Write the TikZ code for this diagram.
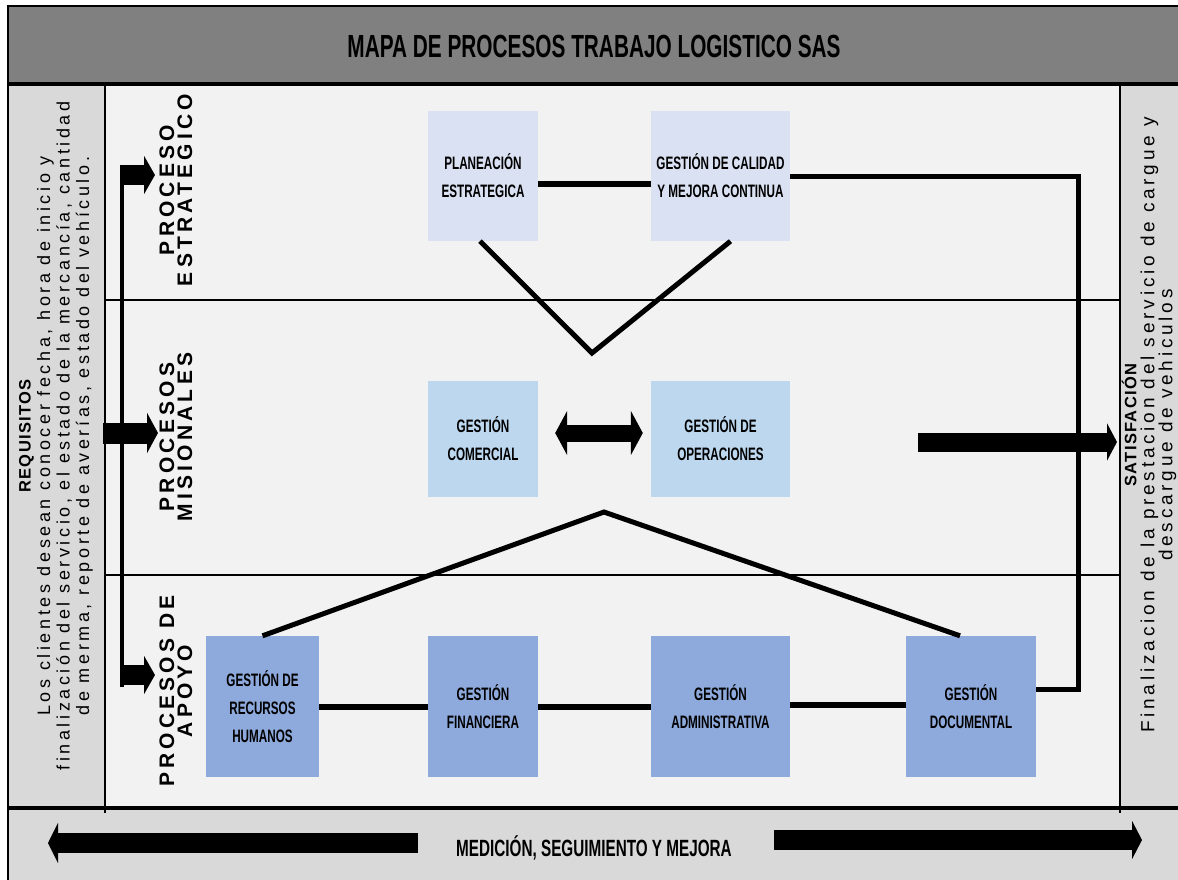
\documentclass[tikz,border=0pt]{standalone}
\usepackage{fontspec}
\setmainfont{Liberation Sans}
\newfontfamily\narrowfont[FakeStretch=0.65]{Liberation Sans}
\newfontfamily\spacedfont[LetterSpace=20]{Liberation Sans}
\newfontfamily\headfont[LetterSpace=8]{Liberation Sans}
\usetikzlibrary{arrows.meta, positioning, calc}
\definecolor{mtitle}{RGB}{128,128,128}
\definecolor{mside}{RGB}{217,217,217}
\definecolor{mback}{RGB}{242,242,242}
\definecolor{mstrat}{RGB}{218,225,242}
\definecolor{mmision}{RGB}{189,215,238}
\definecolor{mapoyo}{RGB}{142,169,219}

\begin{document}
\begin{tikzpicture}[x=1pt, y=-1pt,
    proc/.style={minimum width=110pt, minimum height=130pt, inner sep=1pt, align=center, font=\narrowfont\bfseries\fontsize{18}{28}\selectfont},
    lane/.style={rotate=90, align=center, inner sep=0pt, font=\spacedfont\bfseries\fontsize{21}{18}\selectfont},
    sidetext/.style={rotate=90, align=center, inner sep=0pt, font=\spacedfont\fontsize{18}{19.5}\selectfont},
    link/.style={line width=6pt},
    fatarrow/.style={line width=20pt, -{Triangle[length=11pt, width=38pt]}},
]
    \useasboundingbox (0,0) rectangle (1178,880);

    % Background bands
    \fill[mtitle] (7.5,6) rectangle (1178,84);
    \fill[mside] (7.5,84) rectangle (1178,880);
    \fill[mback] (105,84) rectangle (1120,808);
    \draw[line width=2pt] (7.5,880) -- (7.5,6) -- (1178,6);
    \draw[line width=4pt] (7.5,84) -- (1178,84);
    \draw[line width=3.5pt] (7.5,808) -- (1178,808);
    \draw[line width=1.5pt] (105,84) -- (105,813);
    \draw[line width=1.5pt] (1120,84) -- (1120,813);
    \draw[line width=1.5pt] (105,300) -- (1120,300);
    \draw[line width=1.5pt] (105,575) -- (1120,575);

    \node[font=\narrowfont\bfseries\fontsize{32}{36}\selectfont] (title) at (594,46) {MAPA DE PROCESOS TRABAJO LOGISTICO SAS};

    % Side texts
    \node[sidetext] (req) at (56,436) {{\headfont\bfseries\fontsize{16.5}{19}\selectfont REQUISITOS}\\Los clientes desean conocer fecha, hora de inicio y\\finalización del servicio, el estado de la mercancía, cantidad\\de merma, reporte de averías, estado del vehículo.};
    \node[sidetext, font=\spacedfont\fontsize{19}{18}\selectfont] (satis) at (1149,425) {{\headfont\bfseries\fontsize{16.5}{19}\selectfont SATISFACIÓN}\\Finalizacion de la prestacion del servicio de cargue y\\descargue de vehiculos};

    % Lane labels
    \node[lane] (est) at (176,190) {PROCESO\\ESTRATEGICO};
    \node[lane] (mis) at (176,437) {PROCESOS\\MISIONALES};
    \node[lane] (apo) at (176,691) {PROCESOS DE\\APOYO};

    % Strategic processes
    \node[proc, fill=mstrat] (plan) at (483,176) {PLANEACIÓN\\ESTRATEGICA};
    \node[proc, fill=mstrat, minimum width=139pt] (cal) at (720.5,176) {GESTIÓN DE CALIDAD\\Y MEJORA CONTINUA};

    % Mission processes
    \node[proc, fill=mmision, minimum height=116pt] (com) at (483,439) {GESTIÓN\\COMERCIAL};
    \node[proc, fill=mmision, minimum width=139pt, minimum height=116pt] (ope) at (720.5,439) {GESTIÓN DE\\OPERACIONES};

    % Support processes
    \node[proc, fill=mapoyo, minimum width=113pt, minimum height=141pt] (rh) at (262.5,706.5) {GESTIÓN DE\\RECURSOS\\HUMANOS};
    \node[proc, fill=mapoyo, minimum height=141pt] (fin) at (483,706.5) {GESTIÓN\\FINANCIERA};
    \node[proc, fill=mapoyo, minimum width=139pt, minimum height=141pt] (adm) at (720.5,706.5) {GESTIÓN\\ADMINISTRATIVA};
    \node[proc, fill=mapoyo, minimum width=130pt, minimum height=141pt] (doc) at (971,706.5) {GESTIÓN\\DOCUMENTAL};

    % Links between processes
    \draw[link] ([yshift=-8pt]plan.east) -- ([yshift=-8pt]cal.east -| cal.west);
    \coordinate (apexup) at (592,353);
    \draw[link, line width=5pt] ([xshift=-3pt]plan.south) -- (apexup) -- ([xshift=10pt]cal.south);
    \draw[line width=17pt, {Triangle[length=12pt, width=44pt]}-{Triangle[length=12pt, width=44pt]}, shorten <=17pt, shorten >=8pt] ([yshift=6pt]com.east) -- ([yshift=6pt]ope.west);
    \coordinate (apexlow) at (604,512);
    \draw[link, line width=5pt] (rh.north) -- (apexlow) -- ([xshift=-11pt]doc.north);
    \draw[link] (rh.east) -- (fin.west);
    \draw[link] (fin.east) -- (adm.west);
    \draw[link] ([yshift=2pt]adm.east) -- ([yshift=2pt]doc.west);
    \draw[link, line width=5pt] (cal.east) -- ++(288,0) |- ([yshift=17pt]doc.east);

    % Input bracket
    \coordinate (bartop) at (122,165);
    \coordinate (barbot) at (122,687);
    \coordinate (inE) at (155,175);
    \coordinate (inM) at (158,433);
    \coordinate (inA) at (155,675);
    \coordinate (reqin) at (103,433);
    \draw[line width=4pt] (bartop) -- (barbot);
    \draw[fatarrow] (bartop |- inE) -- (inE);
    \draw[fatarrow, line width=21pt, -{Triangle[length=11pt, width=40pt]}] (reqin) -- (inM);
    \draw[fatarrow] (bartop |- inA) -- (inA);

    % Output arrow
    \coordinate (outstart) at (918,442);
    \coordinate (outtip) at (1117,442);
    \draw[fatarrow, line width=19pt, -{Triangle[length=10pt, width=37pt]}] (outstart) -- (outtip);

    % Bottom band
    \node[font=\narrowfont\bfseries\fontsize{23.5}{26}\selectfont] (medicion) at (594,848) {MEDICIÓN, SEGUIMIENTO Y MEJORA};
    \coordinate (mleft) at (48,843);
    \coordinate (mright) at (1142,840);
    \draw[fatarrow, -{Triangle[length=10pt, width=40pt]}, shorten <=35pt] (medicion.west |- mleft) -- (mleft);
    \draw[fatarrow, -{Triangle[length=10pt, width=38pt]}, shorten <=39pt] (medicion.east |- mright) -- (mright);
\end{tikzpicture}
\end{document}
